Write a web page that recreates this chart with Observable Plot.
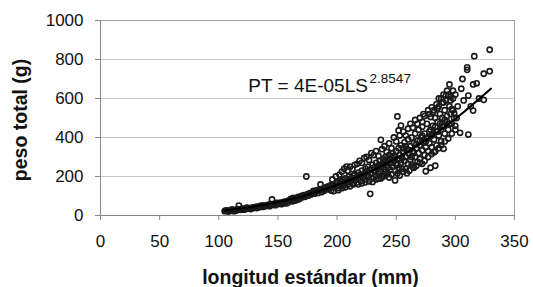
<!DOCTYPE html>
<html><head><meta charset="utf-8">
<script src="https://cdn.jsdelivr.net/npm/d3@7"></script>
<script src="https://cdn.jsdelivr.net/npm/@observablehq/plot@0.6"></script>
<style>html,body{margin:0;padding:0;background:#fff}</style>
</head><body><div id="chart"></div>
<script>
const points = [
[105,22],[106,26],[107,25],[108,20],[109,23],[110,28],[111,24],[111,30],[112,30],[113,22],[114,26],[115,27],[116,32],[117,51],[118,29],[119,33],[120,35],[121,30],[122,31],[123,38],[124,40],[125,36],[126,35],[127,33],[128,40],[129,38],[130,42],[131,44],[132,38],[133,45],[134,42],[135,48],[136,50],[137,44],[138,52],[139,47],[140,50],[141,52],[142,55],[143,48],[144,57],[145,82],[145,58],[146,54],[147,60],[148,53],[149,64],[150,62],[151,60],[152,66],[153,58],[154,66],[155,70],[156,62],[157,72],[158,64],[159,76],[160,78],[161,85],[162,72],[162,80],[163,90],[164,76],[165,88],[166,80],[167,95],[167,88],[168,84],[169,96],[170,100],[170,92],[171,98],[172,104],[173,96],[174,200],[175,110],[176,102],[177,115],[178,108],[180,118],[180,126],[181,112],[182,122],[183,130],[184,116],[185,128],[186,159],[186,134],[187,120],[188,138],[189,127],[190,142],[190,132],[191,146],[192,135],[193,150],[194,140],[195,155],[195,128],[196,148],[196,185],[197,160],[197,125],[198,144],[199,165],[199,200],[200,152],[200,170],[201,140],[201,130],[202,158],[202,210],[203,176],[204,162],[204,225],[204,140],[205,150],[205,182],[206,168],[206,240],[207,190],[207,145],[208,251],[208,172],[209,158],[209,230],[210,185],[210,200],[211,175],[211,250],[211,150],[212,192],[213,166],[213,238],[214,205],[214,160],[215,180],[215,212],[215,260],[216,195],[217,170],[217,265],[218,220],[218,188],[218,160],[219,202],[219,280],[220,210],[220,178],[221,230],[221,270],[221,165],[222,196],[223,215],[223,295],[224,240],[224,185],[224,170],[225,205],[225,300],[226,225],[226,250],[227,198],[227,285],[227,175],[228,111],[228,235],[229,215],[229,320],[230,260],[230,190],[230,172],[231,245],[231,310],[232,222],[233,270],[233,205],[233,330],[233,185],[234,238],[235,255],[235,215],[235,305],[235,190],[236,280],[236,228],[237,248],[237,388],[237,190],[238,200],[238,265],[238,340],[239,290],[239,200],[240,240],[240,275],[240,355],[241,225],[241,300],[241,280],[241,205],[242,258],[242,325],[243,282],[243,215],[243,245],[244,310],[244,370],[244,195],[245,268],[245,235],[246,295],[246,345],[246,275],[246,210],[247,250],[247,320],[248,280],[248,400],[248,305],[249,230],[249,305],[249,180],[250,262],[250,330],[250,380],[251,508],[251,290],[251,260],[251,215],[252,245],[252,345],[252,436],[253,310],[253,410],[253,285],[253,205],[254,270],[254,360],[254,461],[255,295],[255,240],[256,325],[256,430],[256,345],[256,225],[257,280],[257,375],[258,300],[258,410],[258,355],[258,240],[259,217],[259,340],[260,265],[260,390],[260,445],[261,315],[261,335],[261,230],[262,285],[262,355],[262,470],[263,400],[263,300],[263,260],[264,330],[264,250],[264,450],[265,370],[265,320],[265,245],[266,300],[266,420],[266,490],[267,345],[267,365],[267,255],[268,275],[268,385],[268,470],[269,320],[269,440],[270,360],[270,290],[270,500],[270,385],[270,270],[271,400],[272,335],[272,455],[272,480],[272,410],[272,265],[273,375],[273,520],[274,310],[274,420],[274,510],[274,280],[275,227],[275,350],[275,380],[276,470],[276,395],[277,330],[277,540],[277,400],[277,300],[278,430],[278,370],[278,520],[279,245],[279,505],[279,440],[280,350],[280,410],[280,555],[280,315],[281,530],[281,460],[281,420],[282,390],[282,325],[282,540],[283,255],[283,500],[283,455],[283,330],[284,430],[284,360],[284,570],[285,480],[285,550],[285,430],[286,410],[286,600],[286,560],[286,345],[287,520],[287,470],[288,440],[288,380],[288,600],[288,360],[289,580],[289,500],[289,455],[290,460],[290,342],[290,620],[290,580],[291,420],[291,540],[291,490],[291,380],[292,590],[292,615],[293,480],[293,640],[293,510],[294,440],[294,620],[294,395],[295,672],[295,560],[295,470],[296,520],[296,610],[296,590],[297,470],[297,545],[297,420],[298,600],[298,540],[298,640],[299,500],[299,525],[300,620],[300,460],[300,440],[301,500],[302,560],[304,424],[305,650],[306,700],[307,590],[310,760],[310,747],[311,615],[311,415],[313,560],[315,672],[315,538],[316,817],[318,678],[320,600],[324,727],[324,593],[329,740],[329,850]
];
const lengths = points.map(d => d[0]);
const weights = points.map(d => d[1]);

// Fitted power curve as drawn
const fitLengths = [105, 130, 150, 175, 200, 225, 250, 275, 300, 330];
const fitWeights = [25, 46, 69, 106, 156, 218, 294, 386, 495, 650];

const xTicks = [0, 50, 100, 150, 200, 250, 300, 350];
const yTicks = [0, 200, 400, 600, 800, 1000];
const xTitle = "longitud estándar (mm)";
const yTitle = "peso total (g)";
const eqMain = ["PT = 4E-05LS"];
const eqExp = ["2.8547"];
const eqMainPos = {x: 125, y: 631};
const eqExpPos = {x: 227.5, y: 682};

const idx = d3.range(lengths.length);
const fitIdx = d3.range(fitLengths.length);

const chart = Plot.plot({
  width: 533, height: 287,
  marginLeft: 100, marginRight: 19, marginTop: 20, marginBottom: 72,
  style: {fontFamily: "'Liberation Sans', Arial, sans-serif", fontSize: "17px", color: "#111", background: "#fff"},
  x: {domain: [0, 350]},
  y: {domain: [0, 1000]},
  marks: [
    Plot.gridY(yTicks, {stroke: "#c4c4c4", strokeOpacity: 1, strokeWidth: 1}),
    Plot.frame({stroke: "#a0a0a0"}),
    Plot.ruleX([0], {stroke: "#888"}),
    Plot.ruleY([0], {stroke: "#888"}),
    Plot.axisY(yTicks, {tickSize: 5, tickPadding: 12, stroke: "#888", label: null, tickFormat: d => `${d}`}),
    Plot.axisX(xTicks, {tickSize: 5, tickPadding: 14, stroke: "#888", label: null, tickFormat: d => `${d}`}),
    Plot.dot(idx, {x: i => lengths[i], y: i => weights[i], r: 2.6, stroke: "#1a1a1a", strokeWidth: 1.6, fill: "none"}),
    Plot.line(fitIdx, {x: i => fitLengths[i], y: i => fitWeights[i], curve: "natural", stroke: "#000", strokeWidth: 2.2}),
    Plot.text(eqMain, {x: () => eqMainPos.x, y: () => eqMainPos.y, text: d => d, textAnchor: "start", lineAnchor: "bottom", fontSize: 19, fill: "#111"}),
    Plot.text(eqExp, {x: () => eqExpPos.x, y: () => eqExpPos.y, text: d => d, textAnchor: "start", lineAnchor: "bottom", fontSize: 13.5, fill: "#111"}),
    Plot.text([yTitle], {frameAnchor: "left", text: d => d, rotate: -90, textAnchor: "middle", lineAnchor: "middle", dx: -80, dy: 2, fontWeight: "bold", fontSize: 19.5, fill: "#111"}),
    Plot.text([xTitle], {frameAnchor: "bottom", text: d => d, textAnchor: "middle", lineAnchor: "middle", dx: 3, dy: 62, fontWeight: "bold", fontSize: 19.5, fill: "#111"})
  ]
});
document.getElementById("chart").append(chart);
</script>
</body></html>
